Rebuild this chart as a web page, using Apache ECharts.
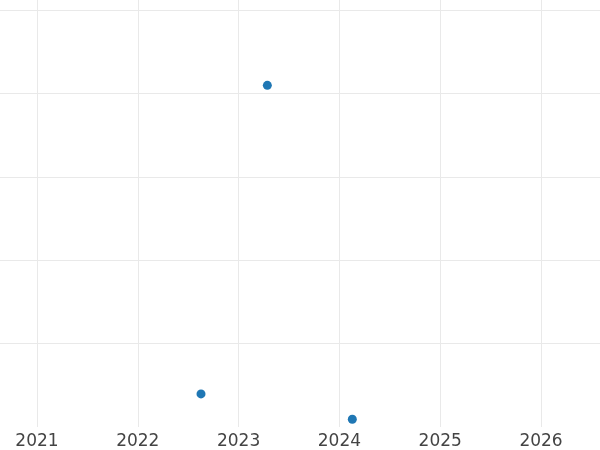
<!DOCTYPE html>
<html>
<head>
<meta charset="utf-8">
<script src="https://cdn.jsdelivr.net/npm/echarts@6/dist/echarts.min.js"></script>
<style>html,body{margin:0;padding:0;background:#fff}#c{width:600px;height:450px}</style>
</head>
<body>
<div id="c"></div>
<script>
const xYears = [2022.627, 2023.285, 2024.128];
const yValues = [0.397, 4.100, 0.093];
const xTicks = [2021, 2022, 2023, 2024, 2025, 2026];

const points = xYears.map((x, i) => [x, yValues[i]]);
const chart = echarts.init(document.getElementById('c'), null, {renderer: 'canvas'});
chart.setOption({
  animation: false,
  backgroundColor: '#ffffff',
  grid: {left: 0, right: 0, top: 0, bottom: 22.95, containLabel: false},
  xAxis: {
    type: 'value', min: 2020.633, max: 2026.585, minInterval: 1, maxInterval: 1,
    axisLine: {show: false}, axisTick: {show: false},
    axisLabel: {
      color: '#444444', fontSize: 17, fontFamily: 'DejaVu Sans', margin: 6,
      showMinLabel: false, showMaxLabel: false,
      formatter: v => xTicks.indexOf(Math.round(v * 1000) / 1000) >= 0 ? String(Math.round(v)) : ''
    },
    splitLine: {show: true, showMinLine: false, showMaxLine: false, lineStyle: {color: '#e9e9e9', width: 1}}
  },
  yAxis: {
    type: 'value', min: 0, max: 5.124, minInterval: 1, maxInterval: 1,
    axisLine: {show: false}, axisTick: {show: false}, axisLabel: {show: false},
    splitLine: {show: true, showMinLine: false, showMaxLine: false, lineStyle: {color: '#e9e9e9', width: 1}}
  },
  series: [{
    type: 'scatter', data: points, symbol: 'circle', symbolSize: 9,
    itemStyle: {color: '#1f77b4', opacity: 1}
  }]
});
</script>
</body>
</html>
